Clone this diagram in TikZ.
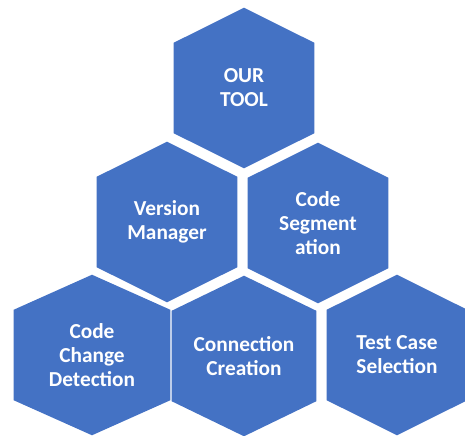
\documentclass[tikz,border=0pt]{standalone}
\usepackage{fontspec}
\setmainfont{Carlito}
\usetikzlibrary{positioning, calc, backgrounds}
\definecolor{hexblue}{HTML}{4472C4}

\begin{document}
\begin{tikzpicture}[
        % one unit = one pixel of the sketch, y grows downwards
        x=0.75pt, y=-0.75pt,
        every node/.style={font=\bfseries\fontsize{16pt}{18pt}\selectfont},
        hexa/.style={inner sep=0pt, align=center, text=white,
                     minimum width=105pt, minimum height=67.5pt},
        tile/.style={fill=hexblue}
    ]
    \useasboundingbox (0,0) rectangle (465,436);

    % --- Top ---
    \node[hexa] (tool) at (244,88) {OUR\\TOOL};

    % --- Middle row ---
    \node[hexa] (vm) at (167,222) {Version\\Manager};
    \node[hexa] (seg) at (318,223) {Code\\Segment\\ation};

    % --- Bottom row ---
    \node[hexa, minimum width=117pt] (ccd) at (92,355) {Code\\Change\\Detection};
    \node[hexa, minimum width=108pt] (conn) at (244,356) {Connection\\Creation};
    \node[hexa] (tcs) at (397,355) {Test Case\\Selection};

    % --- Hexagon tiles behind the text ---
    \begin{scope}[on background layer]
        \foreach \n in {tool, vm, seg, ccd, conn, tcs}
            \fill[tile] (\n.north west) -- ([yshift=26.25pt]\n.north) -- (\n.north east)
                -- (\n.south east) -- ([yshift=-26.25pt]\n.south) -- (\n.south west) -- cycle;
    \end{scope}

\end{tikzpicture}
\end{document}
